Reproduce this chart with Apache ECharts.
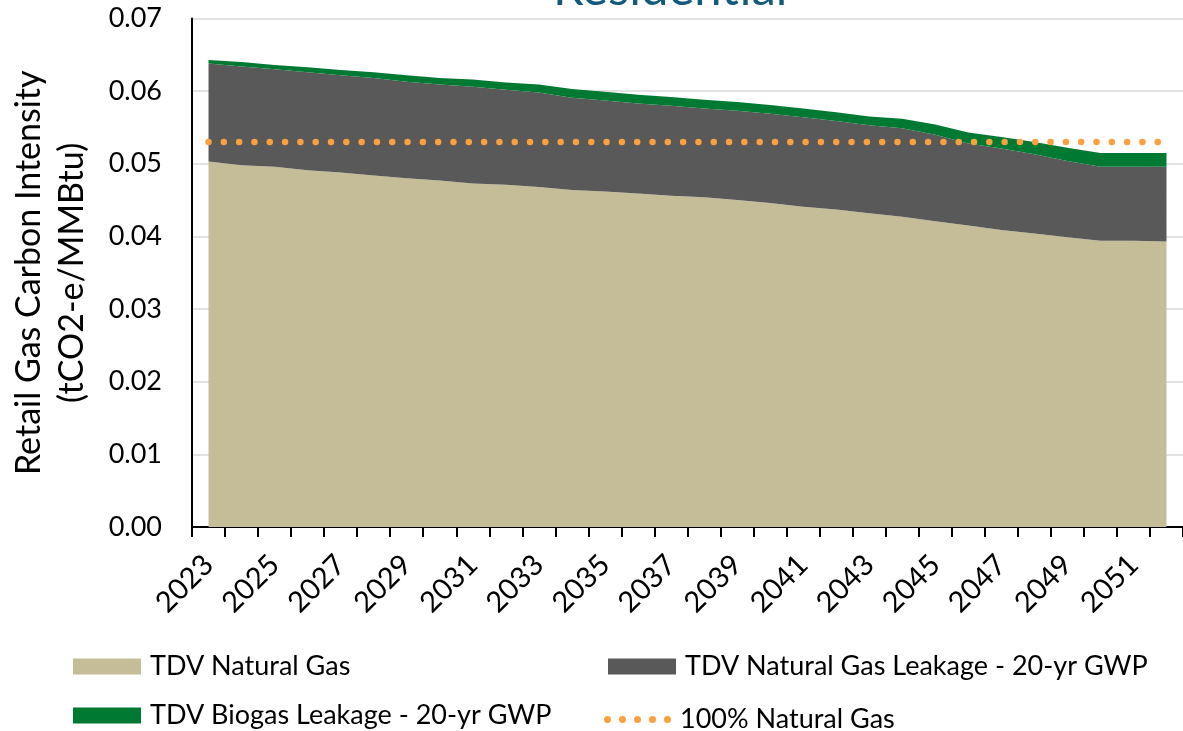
<!DOCTYPE html>
<html>
<head>
<meta charset="utf-8">
<script src="https://cdn.jsdelivr.net/npm/echarts@6/dist/echarts.min.js"></script>
<style>
  html, body { margin: 0; padding: 0; background: #fff; }
  #chart { width: 1183px; height: 731px; }
</style>
</head>
<body>
<div id="chart"></div>
<script>
const years = ['2023', '2024', '2025', '2026', '2027', '2028', '2029', '2030', '2031', '2032',
  '2033', '2034', '2035', '2036', '2037', '2038', '2039', '2040', '2041', '2042',
  '2043', '2044', '2045', '2046', '2047', '2048', '2049', '2050', '2051', '2052']

const naturalGas = [0.0503, 0.0498, 0.0496, 0.0491, 0.0488, 0.0484, 0.0480, 0.0477, 0.0473, 0.0471,
  0.0468, 0.0464, 0.0462, 0.0459, 0.0456, 0.0454, 0.0450, 0.0446, 0.0441, 0.0437,
  0.0432, 0.0427, 0.0421, 0.0415, 0.0409, 0.0404, 0.0399, 0.0394, 0.0394, 0.0393]

const ngLeakage = [0.0135, 0.0136, 0.0134, 0.0135, 0.0134, 0.0134, 0.0133, 0.0132, 0.0133, 0.0131,
  0.0130, 0.0127, 0.0125, 0.0124, 0.0124, 0.0122, 0.0123, 0.0123, 0.0123, 0.0122,
  0.0121, 0.0122, 0.0119, 0.0113, 0.0112, 0.0109, 0.0105, 0.0102, 0.0102, 0.0103]

const biogasLeakage = [0.0005, 0.0006, 0.0006, 0.0007, 0.0007, 0.0008, 0.0009, 0.0009, 0.0010, 0.0010,
  0.0011, 0.0012, 0.0012, 0.0012, 0.0012, 0.0012, 0.0012, 0.0012, 0.0012, 0.0012,
  0.0012, 0.0013, 0.0014, 0.0015, 0.0016, 0.0017, 0.0018, 0.0019, 0.0019, 0.0019]

const allNaturalGas = [0.053, 0.053, 0.053, 0.053, 0.053, 0.053, 0.053, 0.053, 0.053, 0.053,
  0.053, 0.053, 0.053, 0.053, 0.053, 0.053, 0.053, 0.053, 0.053, 0.053,
  0.053, 0.053, 0.053, 0.053, 0.053, 0.053, 0.053, 0.053, 0.053, 0.053]

const yTicks = [0, 0.01, 0.02, 0.03, 0.04, 0.05, 0.06, 0.07]

const font = 'Lato'

// five dots for the dotted-line legend entry
const dotsIcon = 'path://M0,3.5a3.5,3.5 0 1,0 7,0a3.5,3.5 0 1,0 -7,0z' +
  'M15,3.5a3.5,3.5 0 1,0 7,0a3.5,3.5 0 1,0 -7,0z' +
  'M30,3.5a3.5,3.5 0 1,0 7,0a3.5,3.5 0 1,0 -7,0z' +
  'M45,3.5a3.5,3.5 0 1,0 7,0a3.5,3.5 0 1,0 -7,0z' +
  'M60,3.5a3.5,3.5 0 1,0 7,0a3.5,3.5 0 1,0 -7,0z'

// one legend per item so each sits where the original has it
const legendAt = (name, left, top, extra) => Object.assign({
  data: [name],
  left: left,
  top: top,
  icon: 'rect',
  itemWidth: 68,
  itemHeight: 16,
  padding: 0,
  selectedMode: false,
  textStyle: { fontFamily: font, fontSize: 27, color: '#000', padding: [0, 0, 0, 4] }
}, extra || {})

const option = {
  animation: false,
  title: {
    text: 'Residential',
    left: 548,
    top: -40,
    textStyle: { fontFamily: font, fontSize: 49, fontWeight: 'normal', color: '#145A7C' }
  },
  grid: { left: 187, right: -7, top: 18.5, bottom: 204 },
  legend: [
    legendAt('TDV Natural Gas', 73, 653),
    legendAt('TDV Natural Gas Leakage - 20-yr GWP', 608, 653),
    legendAt('TDV Biogas Leakage - 20-yr GWP', 73, 702),
    legendAt('100% Natural Gas', 604, 706, { icon: dotsIcon, itemWidth: 67, itemHeight: 7 })
  ],
  xAxis: {
    type: 'category',
    data: years,
    boundaryGap: true,
    axisLine: { lineStyle: { color: '#000', width: 2 } },
    axisTick: { show: true, length: 10, interval: 0, lineStyle: { color: '#000', width: 2 } },
    axisLabel: {
      interval: 1,
      rotate: 45,
      margin: 33,
      fontFamily: font,
      fontSize: 29,
      color: '#000'
    },
    splitLine: { show: false }
  },
  yAxis: {
    type: 'value',
    min: yTicks[0],
    max: yTicks[yTicks.length - 1],
    interval: 0.01,
    name: 'Retail Gas Carbon Intensity\n(tCO2-e/MMBtu)',
    nameLocation: 'middle',
    nameRotate: 90,
    nameGap: 98,
    nameTextStyle: { fontFamily: font, fontSize: 34, color: '#000', lineHeight: 43 },
    axisLine: { show: true, lineStyle: { color: '#000', width: 2 } },
    axisTick: { show: false },
    axisLabel: {
      margin: 30,
      fontFamily: font,
      fontSize: 27,
      color: '#000',
      formatter: v => v.toFixed(2)
    },
    splitLine: { lineStyle: { color: '#D9D9D9', width: 1.5 } }
  },
  series: [
    {
      name: 'TDV Natural Gas',
      type: 'line',
      stack: 'total',
      data: naturalGas,
      symbol: 'none',
      lineStyle: { width: 0 },
      itemStyle: { color: '#C4BD97' },
      areaStyle: { color: '#C4BD97', opacity: 1 }
    },
    {
      name: 'TDV Natural Gas Leakage - 20-yr GWP',
      type: 'line',
      stack: 'total',
      data: ngLeakage,
      symbol: 'none',
      lineStyle: { width: 0 },
      itemStyle: { color: '#595959' },
      areaStyle: { color: '#595959', opacity: 1 }
    },
    {
      name: 'TDV Biogas Leakage - 20-yr GWP',
      type: 'line',
      stack: 'total',
      data: biogasLeakage,
      symbol: 'none',
      lineStyle: { width: 0 },
      itemStyle: { color: '#007A33' },
      areaStyle: { color: '#007A33', opacity: 1 }
    },
    {
      name: '100% Natural Gas',
      type: 'line',
      data: allNaturalGas,
      symbol: 'none',
      itemStyle: { color: '#F9A03F' },
      lineStyle: { color: '#F9A03F', width: 6.5, type: [0.01, 15.3], cap: 'round' },
      z: 5
    }
  ]
}

const myChart = echarts.init(document.getElementById('chart'))
myChart.setOption(option)
</script>
</body>
</html>
